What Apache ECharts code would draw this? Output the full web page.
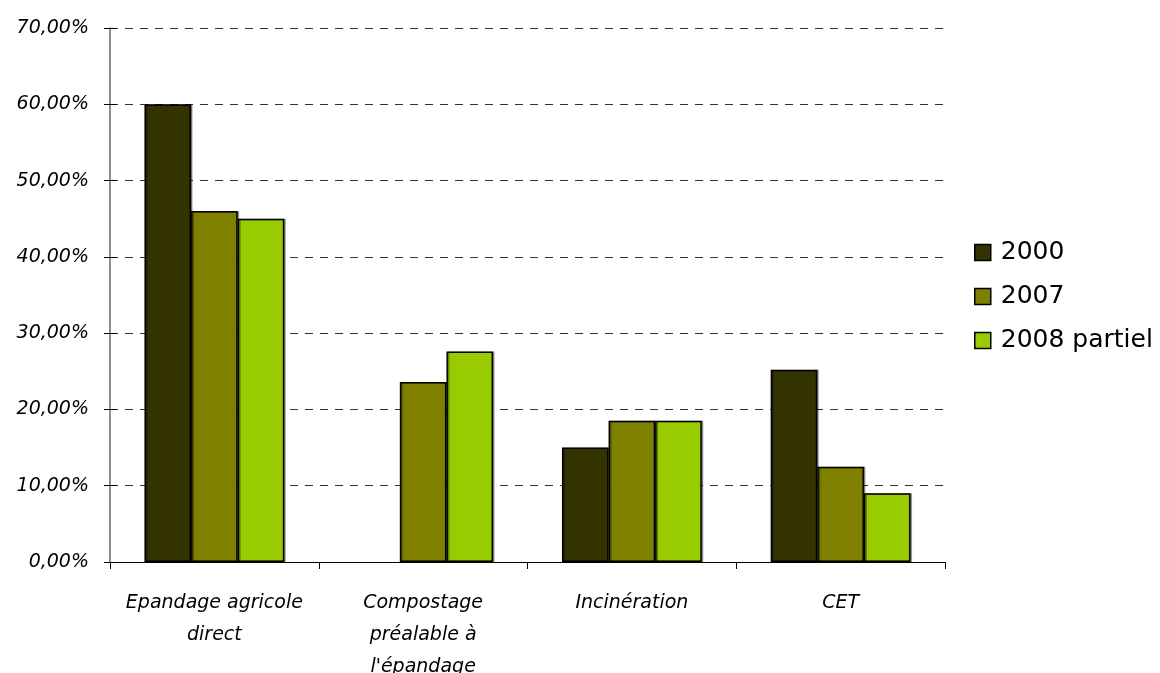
<!DOCTYPE html>
<html>
<head>
<meta charset="utf-8">
<script src="https://cdn.jsdelivr.net/npm/echarts@6/dist/echarts.min.js"></script>
<style>
  html, body { margin: 0; padding: 0; background: #fff; overflow: hidden; }
  #chart { width: 1160px; height: 673px; }
</style>
</head>
<body>
<div id="chart"></div>
<script>
// Destination des boues : part de chaque filière (en %)
const categories = [
  'Epandage agricole\ndirect',
  'Compostage\npréalable à\nl\'épandage',
  'Incinération',
  'CET'
];
const seriesNames = ['2000', '2007', '2008 partiel'];
const values2000 = [60.0, 0, 15.0, 25.2];
const values2007 = [46.0, 23.6, 18.5, 12.5];
const values2008 = [45.0, 27.6, 18.5, 9.0];
const seriesColors = ['#333300', '#808000', '#99CC00'];
const yTicks = { min: 0, max: 70, interval: 10 };

const labelFont = '"Comic Sans MS", "DejaVu Sans", sans-serif';

function fmtPct(v) {
  return v.toFixed(2).replace('.', ',') + '%';
}

// a zero share draws no bar at all (no outline either)
function barItems(values) {
  return values.map(v => v === 0
    ? { value: v, itemStyle: { borderWidth: 0, shadowColor: 'transparent' } }
    : v);
}

const chart = echarts.init(document.getElementById('chart'), null, { renderer: 'canvas' });

const seriesData = [values2000, values2007, values2008];

chart.setOption({
  animation: false,
  backgroundColor: '#ffffff',
  grid: {
    left: 110, right: 215, top: 28, bottom: 111,
    containLabel: false,
    outerBoundsMode: 'none'
  },
  legend: {
    orient: 'vertical',
    left: 974,
    top: 240,
    padding: 0,
    itemWidth: 16,
    itemHeight: 16,
    itemGap: 19,
    icon: 'rect',
    itemStyle: { borderColor: '#000', borderWidth: 1.5 },
    textStyle: { fontFamily: '"DejaVu Sans", sans-serif', fontSize: 25, color: '#000', padding: [0, 0, 0, 5] },
    data: seriesNames
  },
  xAxis: {
    type: 'category',
    data: categories,
    axisLine: { lineStyle: { color: '#000', width: 1 } },
    axisTick: { show: true, alignWithLabel: false, length: 7, lineStyle: { color: '#000' } },
    axisLabel: {
      interval: 0,
      margin: 25,
      fontFamily: labelFont,
      fontStyle: 'italic',
      fontSize: 19,
      lineHeight: 32,
      color: '#000'
    }
  },
  yAxis: [
    {
      type: 'value',
      min: yTicks.min,
      max: yTicks.max,
      interval: yTicks.interval,
      axisLine: { show: true, lineStyle: { color: '#666', width: 1.5 } },
      axisTick: { show: true, length: 6, lineStyle: { color: '#000' } },
      axisLabel: {
        margin: 21,
        fontFamily: labelFont,
        fontStyle: 'italic',
        fontSize: 19,
        color: '#000',
        formatter: fmtPct
      },
      splitLine: { show: true, lineStyle: { color: '#333', type: [8, 7], width: 1 } }
    },
    {
      // inner half of the cross-shaped y ticks
      type: 'value',
      position: 'left',
      min: yTicks.min,
      max: yTicks.max,
      interval: yTicks.interval,
      axisLine: { show: false },
      axisTick: { show: true, inside: true, length: 6, lineStyle: { color: '#000' } },
      axisLabel: { show: false },
      splitLine: { show: false }
    }
  ],
  series: seriesNames.map((name, i) => ({
    name: name,
    type: 'bar',
    yAxisIndex: 0,
    data: barItems(seriesData[i]),
    barGap: '0%',
    barCategoryGap: '33%',
    itemStyle: {
      color: seriesColors[i],
      borderColor: '#000',
      borderWidth: 1.5,
      shadowColor: 'rgba(0,0,0,0.35)',
      shadowOffsetX: 1.5,
      shadowOffsetY: 0,
      shadowBlur: 0
    }
  }))
});
</script>
</body>
</html>
